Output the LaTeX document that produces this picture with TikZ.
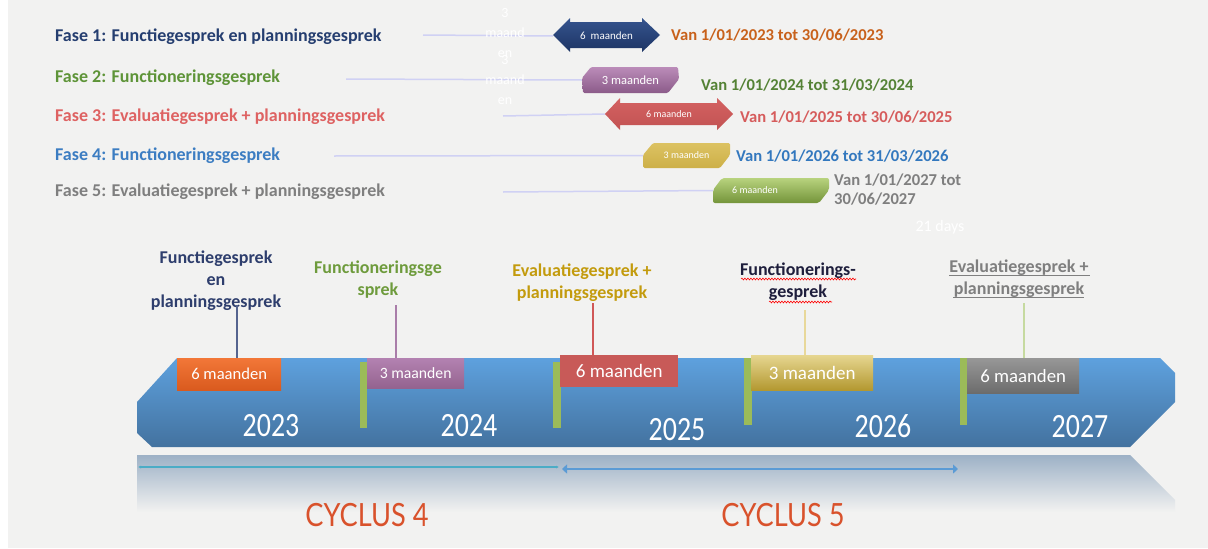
\documentclass[tikz,border=0pt]{standalone}
\usepackage{fontspec}
\setmainfont{Carlito}
\newfontfamily\yearfont{Carlito}[FakeStretch=0.82]
\newfontfamily\cycfont{Lato}[FakeStretch=0.85]
\usetikzlibrary{arrows.meta,decorations.pathmorphing}
\definecolor{bgc}{HTML}{F2F2F1}
\definecolor{faseA}{HTML}{253E70}
\definecolor{faseB}{HTML}{5E9438}
\definecolor{faseC}{HTML}{DE6262}
\definecolor{faseD}{HTML}{3C7DC2}
\definecolor{faseE}{HTML}{7F7F7F}
\definecolor{dateA}{HTML}{C8611B}
\definecolor{dateB}{HTML}{548235}
\definecolor{dateC}{HTML}{D65C5C}
\definecolor{dateD}{HTML}{3378BE}
\definecolor{lav}{HTML}{D0D1F4}
\definecolor{navyT}{HTML}{35548E}
\definecolor{navyB}{HTML}{1D3464}
\definecolor{purT}{HTML}{BB8CB9}
\definecolor{purB}{HTML}{8B5B89}
\definecolor{redT}{HTML}{D46262}
\definecolor{redB}{HTML}{C25252}
\definecolor{yelT}{HTML}{DCC262}
\definecolor{yelB}{HTML}{CDB048}
\definecolor{grnT}{HTML}{B8D37E}
\definecolor{grnB}{HTML}{74943A}
\definecolor{barT}{HTML}{5EA1DE}
\definecolor{barB}{HTML}{43729F}
\definecolor{refT}{HTML}{9DB1C6}
\definecolor{mark}{HTML}{9BBB59}
\definecolor{orT}{HTML}{F27738}
\definecolor{orB}{HTML}{D95A1E}
\definecolor{mpT}{HTML}{B382B1}
\definecolor{mpB}{HTML}{94638F}
\definecolor{mrd}{HTML}{C85A58}
\definecolor{myT}{HTML}{E6D690}
\definecolor{myB}{HTML}{B39830}
\definecolor{mgT}{HTML}{979797}
\definecolor{mgB}{HTML}{6C6C6C}
\definecolor{lblA}{HTML}{2E3E6D}
\definecolor{lblB}{HTML}{6E9B3C}
\definecolor{lblC}{HTML}{C39B0D}
\definecolor{lblD}{HTML}{1E1E3C}
\definecolor{stA}{HTML}{55648F}
\definecolor{stB}{HTML}{A97DA9}
\definecolor{stC}{HTML}{D05858}
\definecolor{stD}{HTML}{E8D89A}
\definecolor{stE}{HTML}{C6DAA0}
\definecolor{cycred}{HTML}{D9522C}
\definecolor{cycA}{HTML}{4BACC6}
\definecolor{cycB}{HTML}{5B9BD5}
\begin{document}
\begin{tikzpicture}[x=1pt,y=-1pt,
  fase/.style={anchor=west, inner sep=0pt, font=\bfseries\fontsize{18}{22}\selectfont},
  datelbl/.style={anchor=west, inner sep=0pt, font=\bfseries\fontsize{16.6}{19}\selectfont},
  barlbl/.style={text=white, inner sep=0pt, font=\fontsize{10}{12}\selectfont},
  ghost/.style={text=white, inner sep=0pt, align=center, font=\fontsize{14}{20}\selectfont},
  guide/.style={draw=lav, line width=1.5pt},
  toplbl/.style={align=center, inner sep=0pt, font=\bfseries\fontsize{18}{22}\selectfont},
  stem/.style={line width=1.2pt},
  boxlbl/.style={text=white, inner sep=0pt, anchor=north west},
  year/.style={text=white, inner sep=0pt, font=\yearfont\fontsize{34}{36}\selectfont},
  cyc/.style={text=cycred, inner sep=0pt, font=\cycfont\fontsize{32}{36}\selectfont},
  markbar/.style={fill=mark, draw=none}]
\useasboundingbox (0,0) rectangle (1208,549);
\fill[white] (0,0) rectangle (1208,549);
\fill[bgc] (8,0) rectangle (1208,548);

% ---------- top phase list ----------
\node[fase, text=faseA] (f1) at (55,37) {Fase 1: Functiegesprek en planningsgesprek};
\node[fase, text=faseB] (f2) at (55,78) {Fase 2: Functioneringsgesprek};
\node[fase, text=faseC] (f3) at (55,117) {Fase 3: Evaluatiegesprek + planningsgesprek};
\node[fase, text=faseD] (f4) at (55,156) {Fase 4: Functioneringsgesprek};
\node[fase, text=faseE] (f5) at (55,192) {Fase 5: Evaluatiegesprek + planningsgesprek};

% bar shapes
\path[top color=navyT, bottom color=navyB] (553,35) -- (570,18) -- (570,22) -- (642,22) -- (642,18) -- (660,35) -- (642,52) -- (642,48) -- (570,48) -- (570,52) -- cycle;
\path[top color=purT, bottom color=purB, rounded corners=1.5pt] (591,67) -- (678,67) -- (679,79) -- (668,93) -- (583,93) -- (582,78) -- cycle;
\path[top color=redT, bottom color=redB] (605,114) -- (620,98) -- (620,103) -- (717,103) -- (717,98) -- (733,114) -- (717,130) -- (717,125) -- (620,125) -- (620,130) -- cycle;
\path[top color=yelT, bottom color=yelB, rounded corners=1.5pt] (653,143) -- (730,143) -- (730,155) -- (720,168) -- (643,168) -- (643,155) -- cycle;
\path[top color=grnT, bottom color=grnB, rounded corners=2pt] (722,178) -- (829,178) -- (829,190) -- (819,203) -- (713,203) -- (713,190) -- cycle;

\node[barlbl, minimum width=107pt, minimum height=34pt, font=\fontsize{11}{12}\selectfont] (b1) at (606.5,36) {6\ \ maanden};
\node[barlbl, minimum width=97pt, minimum height=26pt, font=\fontsize{12.5}{14}\selectfont] (b2) at (630.5,80) {3 maanden};
\node[barlbl, minimum width=128pt, minimum height=32pt] (b3) at (669,114) {6 maanden};
\node[barlbl, minimum width=87pt, minimum height=25pt] (b4) at (686.5,155.5) {3 maanden};
\node[barlbl, minimum width=116pt, minimum height=25pt] (b5) at (771,190.5) {\hspace*{-32pt}6 maanden};

% guide lines
\coordinate (g1) at (423,35);
\coordinate (g2) at (346,79);
\coordinate (g3) at (503,116);
\coordinate (g4) at (334,156);
\coordinate (g5) at (503,192);
\draw[guide] (g1) -- (b1.west);
\draw[guide] (g2) -- (b2.west);
\draw[guide] (g3) -- (b3.west);
\draw[guide] (g4) -- (b4.west);
\draw[guide] (g5) -- (b5.west);

% ghost white texts
\node[ghost] (w1) at (505,33) {3\\maand\\en};
\node[ghost] (w2) at (505,80) {3\\maand\\en};
\node[ghost, font=\fontsize{16}{18}\selectfont] (w3) at (940,227) {21 days};

% date texts
\node[datelbl, text=dateA] (d1) at (671,35) {Van 1/01/2023 tot 30/06/2023};
\node[datelbl, text=dateB] (d2) at (701,85) {Van 1/01/2024 tot 31/03/2024};
\node[datelbl, text=dateC] (d3) at (740,117) {Van 1/01/2025 tot 30/06/2025};
\node[datelbl, text=dateD] (d4) at (736,156) {Van 1/01/2026 tot 31/03/2026};
\node[datelbl, text=faseE, align=left] (d5) at (834,190) {Van 1/01/2027 tot\\30/06/2027};

% ---------- main timeline ----------
\path[top color=refT, bottom color=bgc] (137,455) -- (1130,455) -- (1175,500) -- (1175,512) -- (137,512) -- cycle;
\path[top color=barT, bottom color=barB] (177,358) -- (1160,358) -- (1175,373) -- (1175,402) -- (1130,447) -- (152,447) -- (137,433) -- (137,402) -- cycle;

\fill[markbar] (360,362) rectangle (367,428);
\fill[markbar] (553,362) rectangle (561,428);
\fill[markbar] (744,358) rectangle (752,425);
\fill[markbar] (960,358) rectangle (967,425);

\node[boxlbl, top color=orT, bottom color=orB, minimum width=104pt, minimum height=32pt, font=\fontsize{16.6}{18}\selectfont] (m1) at (177,358) {6 maanden};
\node[boxlbl, top color=mpT, bottom color=mpB, minimum width=97pt, minimum height=30pt, font=\fontsize{15.7}{18}\selectfont] (m2) at (367,358) {3 maanden};
\node[boxlbl, fill=mrd, minimum width=118pt, minimum height=32pt, font=\fontsize{19}{20}\selectfont] (m3) at (560,355) {6 maanden};
\node[boxlbl, top color=myT, bottom color=myB, minimum width=122pt, minimum height=35pt, font=\fontsize{19}{20}\selectfont] (m4) at (751,355) {3 maanden};
\node[boxlbl, top color=mgT, bottom color=mgB, minimum width=112pt, minimum height=35pt, font=\fontsize{18.8}{20}\selectfont] (m5) at (967,358) {6 maanden};

\node[year] (y1) at (271,426) {2023};
\node[year] (y2) at (469,426) {2024};
\node[year] (y3) at (677,430) {2025};
\node[year] (y4) at (883,426) {2026};
\node[year] (y5) at (1080,427) {2027};

% labels above
\node[toplbl, text=lblA] (l1) at (216,281) {Functiegesprek\\en\\planningsgesprek};
\node[toplbl, text=lblB] (l2) at (378,280) {Functioneringsge\\sprek};
\node[toplbl, text=lblC] (l3) at (582,283) {Evaluatiegesprek +\\planningsgesprek};
\node[toplbl, text=lblD] (l4) at (798,281.5) {Functionerings-\\gesprek};
\node[toplbl, text=faseE] (l5) at (1019,278.5) {Evaluatiegesprek +\\planningsgesprek};

\draw[red, line width=0.6pt, decorate, decoration={snake, amplitude=0.9pt, segment length=3pt}] (741,279) -- (856,279);
\draw[red, line width=0.6pt, decorate, decoration={snake, amplitude=0.9pt, segment length=3pt}] (769,302) -- (832,302);
\draw[faseE, line width=1pt] (949,275) -- (1090,275);
\draw[faseE, line width=1pt] (953,297) -- (1084,297);

\coordinate (s1) at (237,305);
\coordinate (s2) at (396,305);
\coordinate (s3) at (593,303);
\coordinate (s4) at (805,310);
\coordinate (s5) at (1024,303);
\draw[stem, draw=stA] (s1) -- (s1 |- m1.north);
\draw[stem, draw=stB] (s2) -- (s2 |- m2.north);
\draw[stem, draw=stC] (s3) -- (s3 |- m3.north);
\draw[stem, draw=stD] (s4) -- (s4 |- m4.north);
\draw[stem, draw=stE] (s5) -- (s5 |- m5.north);

% cycles
\coordinate (c4a) at (138,467);
\coordinate (c4b) at (559,467);
\coordinate (c5a) at (562,469);
\coordinate (c5b) at (958,469);
\draw[cycA, line width=1.3pt, {Latex[length=3pt,width=3pt]}-{Latex[length=3pt,width=3pt]}] (c4a) -- (c4b);
\draw[cycB, line width=1.6pt, {Triangle[length=5pt,width=9pt]}-{Triangle[length=5pt,width=9pt]}] (c5a) -- (c5b);

\node[cyc] (k4) at (367,515) {CYCLUS 4};
\node[cyc] (k5) at (783,515) {CYCLUS 5};
\end{tikzpicture}
\end{document}
